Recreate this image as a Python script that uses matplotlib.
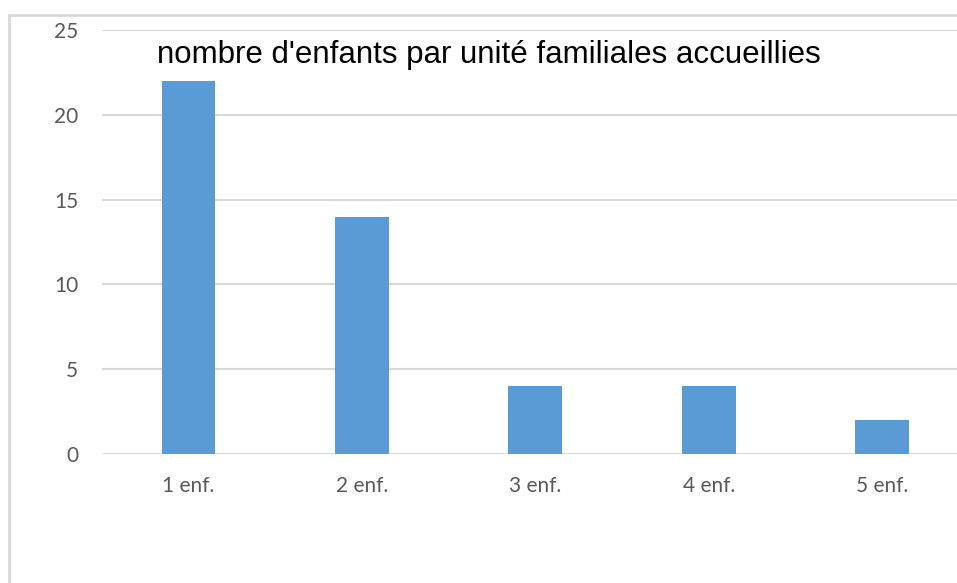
import matplotlib.pyplot as plt
from matplotlib.patches import Rectangle

plt.rcParams['savefig.dpi'] = 100

categories = ['1 enf.', '2 enf.', '3 enf.', '4 enf.', '5 enf.']
counts = [22, 14, 4, 4, 2]
yticks = [0, 5, 10, 15, 20, 25]
title = "nombre d'enfants par unité familiales accueillies"

W, H = 957, 583
fig = plt.figure(figsize=(W / 100, H / 100), dpi=100)

# light frame round the chart (right and bottom edges fall outside the picture)
fig.patches.append(Rectangle((8.5 / W, -0.2), 1.2, 1 - 14.5 / H + 0.2,
                             transform=fig.transFigure, fill=False,
                             edgecolor='#d9d9d9', linewidth=2))

# plot area runs past the right edge of the picture
ax = fig.add_axes([101.8 / W, 129 / H, 867 / W, 424 / H])
ax.bar(range(len(categories)), counts, width=0.31, color='#5b9bd5', zorder=2)
ax.set_xlim(-0.5, len(categories) - 0.5)
ax.set_ylim(0, 25)
ax.set_yticks(yticks)
ax.set_xticks(range(len(categories)))
ax.set_xticklabels(categories)
ax.yaxis.grid(True, color='#d9d9d9', linewidth=1.5)
ax.set_axisbelow(True)
for s in ax.spines.values():
    s.set_visible(False)
ax.tick_params(axis='both', length=0, labelsize=15, labelcolor='#595959')
ax.tick_params(axis='y', pad=17)
ax.tick_params(axis='x', pad=16)
for lab in ax.get_xticklabels() + ax.get_yticklabels():
    lab.set_family('Lato')

fig.text(489 / W, 1 - 63.3 / H, title, ha='center', va='baseline',
         fontsize=22.5, family='Liberation Sans', color='black')

fig.savefig('out.png', dpi=100)
